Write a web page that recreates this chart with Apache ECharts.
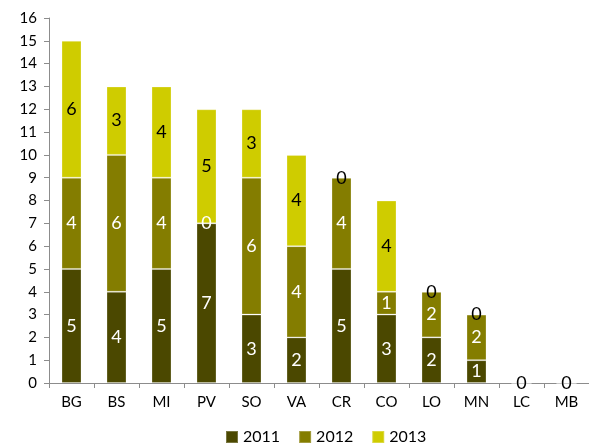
<!DOCTYPE html>
<html>
<head>
<meta charset="UTF-8">
<script src="https://cdn.jsdelivr.net/npm/echarts@6/dist/echarts.min.js"></script>
<style>
  *{margin:0;padding:0;}
  #chart{width:589px;height:447px;}
</style>
</head>
<body>
<div id="chart"></div>
<script>
    var categories = ['BG','BS','MI','PV','SO','VA','CR','CO','LO','MN','LC','MB'];
    var y2011 = [5, 4, 5, 7, 3, 2, 5, 3, 2, 1, 0, 0];
    var y2012 = [4, 6, 4, 0, 6, 4, 4, 1, 2, 2, 0, 0];
    var y2013 = [6, 3, 4, 5, 3, 4, 0, 4, 0, 0, 0, 0];

    var font = 'Lato, "Open Sans", sans-serif';

    function makeSeries(name, data, color, labelColor) {
        return {
            name: name,
            type: 'bar',
            stack: 'total',
            barWidth: 20,
            data: data,
            itemStyle: {color: color, borderColor: 'rgba(255,255,255,0.25)', borderWidth: 1},
            label: {
                show: true,
                position: 'inside',
                color: labelColor,
                fontSize: 18,
                fontFamily: font
            }
        };
    }

    var myChart = echarts.init(document.getElementById('chart'));
    var option = {
        animation: false,
        grid: {left: 49, right: -9, top: 18, bottom: 64},
        legend: {
            bottom: -3,
            left: 220,
            itemWidth: 12,
            itemHeight: 12,
            itemGap: 18,
            icon: 'rect',
            textStyle: {fontSize: 16, color: '#000', fontFamily: font},
            data: ['2011', '2012', '2013']
        },
        xAxis: {
            type: 'category',
            data: categories,
            axisLine: {lineStyle: {color: '#8c8c8c'}},
            axisTick: {show: true, length: 5, lineStyle: {color: '#8c8c8c'}},
            axisLabel: {color: '#000', fontSize: 15, margin: 12, fontFamily: font}
        },
        yAxis: {
            type: 'value',
            min: 0,
            max: 16,
            interval: 1,
            splitLine: {show: false},
            axisLine: {show: true, lineStyle: {color: '#8c8c8c'}},
            axisTick: {show: true, length: 5, lineStyle: {color: '#8c8c8c'}},
            axisLabel: {color: '#000', fontSize: 15, margin: 12, fontFamily: font}
        },
        series: [
            makeSeries('2011', y2011, '#4b4800', '#fff'),
            makeSeries('2012', y2012, '#847d00', '#fff'),
            makeSeries('2013', y2013, '#cfcc00', '#000')
        ]
    };
    myChart.setOption(option);
</script>
</body>
</html>
